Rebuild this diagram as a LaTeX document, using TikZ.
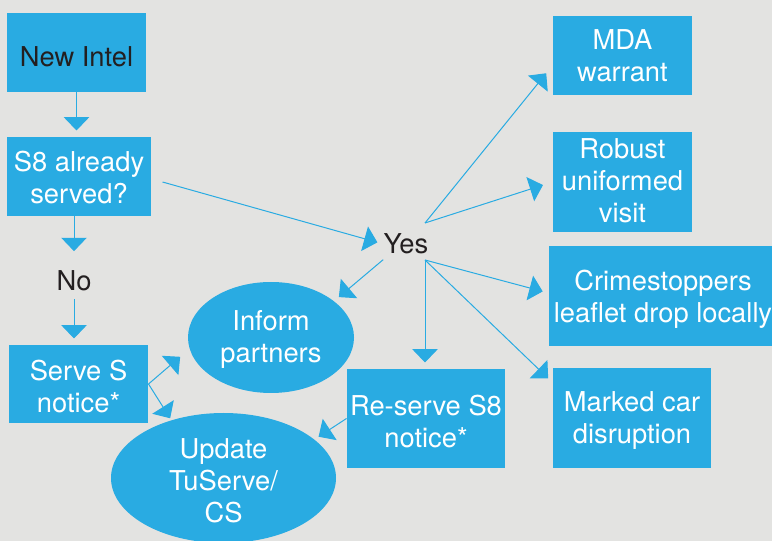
\documentclass[tikz,border=0pt]{standalone}
\usepackage{fontspec}
\setmainfont{TeX Gyre Heros}
\usetikzlibrary{arrows.meta,calc,shapes.geometric}

\definecolor{flowblue}{RGB}{41,171,226}
\definecolor{paper}{RGB}{227,227,225}
\definecolor{ink}{RGB}{35,31,32}

\tikzset{every picture/.style={line width=0.75pt}}
\tikzset{
  box/.style={rectangle, fill=flowblue, inner sep=0pt},
  bubble/.style={ellipse, fill=flowblue, inner sep=0pt},
  boxtext/.style={text=white, align=center, inner sep=0pt, font=\fontsize{20.5pt}{24pt}\selectfont},
  word/.style={text=ink, inner sep=0pt, font=\fontsize{20.5pt}{24pt}\selectfont},
  flow/.style={draw=flowblue, -{Triangle[length=10pt,width=19pt]}, shorten >=4.5pt},
}

\begin{document}
\begin{tikzpicture}[x=0.75pt,y=0.75pt,yscale=-1,xscale=1]
  %set diagram left start at 0, and has height of 541
  \clip (0,0) rectangle (772,541);
  \fill[paper] (0,0) rectangle (772,541);

  %Shape: Rectangle [id:intel]
  \node[box, minimum width=104.25pt, minimum height=59.25pt] (intel) at (76.5,52.5) {};
  %Shape: Rectangle [id:s8]
  \node[box, minimum width=108pt, minimum height=59.25pt] (s8) at (79,176.5) {};
  %Shape: Rectangle [id:serve]
  \node[box, minimum width=104.25pt, minimum height=58.5pt] (serve) at (78.5,384) {};
  %Shape: Ellipse [id:inform]
  \node[bubble, minimum width=124.5pt, minimum height=83.25pt] (inform) at (271,337.5) {};
  %Shape: Ellipse [id:update]
  \node[bubble, minimum width=168.75pt, minimum height=97.5pt] (update) at (223.5,478) {};
  %Shape: Rectangle [id:reserve]
  \node[box, minimum width=118.5pt, minimum height=74.25pt] (reserve) at (426,418.5) {};
  %Shape: Rectangle [id:mda]
  \node[box, minimum width=104.25pt, minimum height=59.25pt] (mda) at (622.5,55.5) {};
  %Shape: Rectangle [id:robust]
  \node[box, minimum width=104.25pt, minimum height=75pt] (robust) at (622.5,182) {};
  %Shape: Rectangle [id:crime]
  \node[box, minimum width=171pt, minimum height=75pt] (crime) at (663,296) {};
  %Shape: Rectangle [id:marked]
  \node[box, minimum width=118.5pt, minimum height=75pt] (marked) at (632,418) {};

  % fan-out points beside Yes
  \coordinate (fan-up) at (425,223);
  \coordinate (fan-dn) at (425,260);

  % Text Node
  \node[boxtext, text=ink] (intel-text) at (76.5,56.5) {New Intel};
  % Text Node
  \node[boxtext] (s8-text) at (79,177.5) {S8 already\\served?};
  % Text Node
  \node[boxtext] (serve-text) at (78.5,386.5) {Serve S\\notice*};
  % Text Node
  \node[boxtext] (inform-text) at (271,339.5) {Inform\\partners};
  % Text Node
  \node[boxtext] (update-text) at (223.5,481) {Update\\TuServe/\\CS};
  % Text Node
  \node[boxtext] (reserve-text) at (426,421.5) {Re-serve S8\\notice*};
  % Text Node
  \node[boxtext] (mda-text) at (622.5,55.5) {MDA\\warrant};
  % Text Node
  \node[boxtext] (robust-text) at (622.5,180.5) {Robust\\uniformed\\visit};
  % Text Node
  \node[boxtext] (crime-text) at (663,299) {Crimestoppers\\leaflet drop locally};
  % Text Node
  \node[boxtext] (marked-text) at (632,420.5) {Marked car\\disruption};
  % Text Node
  \node[word] (no) at (74,280.5) {No};
  % Text Node
  \node[word] (yes) at (406,244) {Yes};

  %Straight Lines
  \draw[flow] (intel.south) -- (intel.south |- s8.north);
  \draw[flow, shorten >=14pt] (s8.south -| no) -- (no.north);
  \draw[flow, shorten <=6pt] (no.south) -- (no.south |- serve.north);
  \draw[flow] ($(s8.east)+(11,5.5)$) -- (yes.west);
  \draw[flow] ($(yes.south west)+(0,5)$) -- (inform.30);
  \draw[flow, shorten >=7.5pt] (fan-up) -- ($(mda.west)+(0,10)$);
  \draw[flow, shorten >=7.5pt] (fan-up) -- (robust.west);
  \draw[flow] (fan-dn) -- ($(crime.west)+(0,-3)$);
  \draw[flow] (fan-dn) -- ($(marked.north west)+(0,15)$);
  \draw[flow] (fan-dn) -- (fan-dn |- reserve.north);
  \draw[flow, shorten >=9pt] (serve.east) -- (inform.188);
  \draw[flow, shorten >=1.5pt] (serve.east) -- (update.132);
  \draw[flow, shorten >=3.5pt] (reserve.west) -- (update.23);

\end{tikzpicture}
\end{document}
